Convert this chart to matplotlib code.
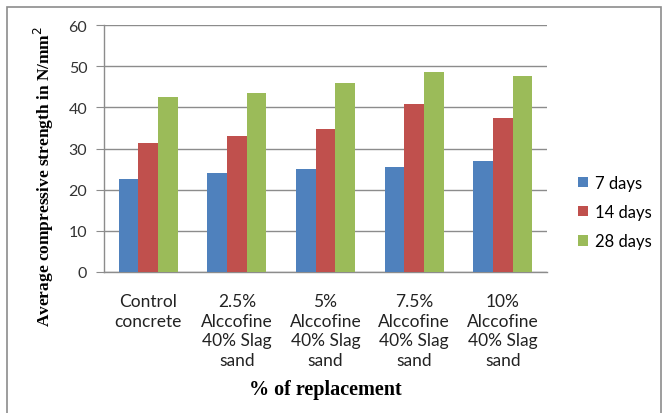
import matplotlib
matplotlib.use("Agg")
import matplotlib.pyplot as plt
from matplotlib.patches import Rectangle
import numpy as np

categories = ["Control\nconcrete",
              "2.5%\nAlccofine\n40% Slag\nsand",
              "5%\nAlccofine\n40% Slag\nsand",
              "7.5%\nAlccofine\n40% Slag\nsand",
              "10%\nAlccofine\n40% Slag\nsand"]
series_names = ["7 days", "14 days", "28 days"]
days7 = [22.5, 24.1, 24.9, 25.4, 26.9]
days14 = [31.4, 33.0, 34.7, 40.7, 37.5]
days28 = [42.4, 43.4, 46.0, 48.5, 47.5]
colors = ["#4F81BD", "#C0504D", "#9BBB59"]
yticks = [0, 10, 20, 30, 40, 50, 60]

W, H = 663, 414
fig = plt.figure(figsize=(W / 100, H / 100), dpi=100)
ax = fig.add_axes([104 / W, (H - 273) / H, (547 - 104) / W, (273 - 26) / H])

x = np.arange(len(categories))
bw = 0.222
for i, (vals, name, c) in enumerate(zip([days7, days14, days28], series_names, colors)):
    ax.bar(x + (i - 1) * bw, vals, width=bw, color=c, label=name, zorder=3)

ax.set_xlim(-0.5, len(categories) - 0.5)
ax.set_ylim(0, 60)
ax.set_yticks(yticks)
ax.yaxis.grid(True, color="#8c8c8c", linewidth=1.0, zorder=0)
for s in ["top", "right"]:
    ax.spines[s].set_visible(False)
for s in ["left", "bottom"]:
    ax.spines[s].set_color("#8c8c8c")
    ax.spines[s].set_linewidth(1.0)
ax.tick_params(axis="y", direction="out", length=6, color="#8c8c8c", labelsize=11.5,
               labelcolor="#333333", pad=6)
ax.set_yticklabels([str(v) for v in yticks], family="Lato")
ax.set_xticks(x)
ax.set_xticklabels(categories, family="Lato", fontsize=12.5, color="#222222",
                   linespacing=1.29)
ax.tick_params(axis="x", length=0, pad=15)

ax.set_xlabel("% of replacement", family="Liberation Serif", fontweight="bold",
              fontsize=14.5, labelpad=8)
fig.text(44 / W, 1 - 176 / H, "Average compressive strength in N/mm$^2$",
         rotation=90, ha="center", va="center", family="Liberation Serif",
         fontweight="bold", fontsize=12.5)

leg = ax.legend(loc="center left", bbox_to_anchor=(563 / W, 1 - 213 / H),
                bbox_transform=fig.transFigure, frameon=False,
                prop={"family": "Lato", "size": 12}, handlelength=0.6,
                handleheight=0.6, handletextpad=0.4, labelspacing=0.8)

fig.patches.append(Rectangle((7 / W, -0.01), (661 - 7) / W, 1 - 8 / H + 0.01,
                             transform=fig.transFigure, fill=False,
                             edgecolor="#8c8c8c", linewidth=1.2))

fig.savefig("out.png", dpi=100)
